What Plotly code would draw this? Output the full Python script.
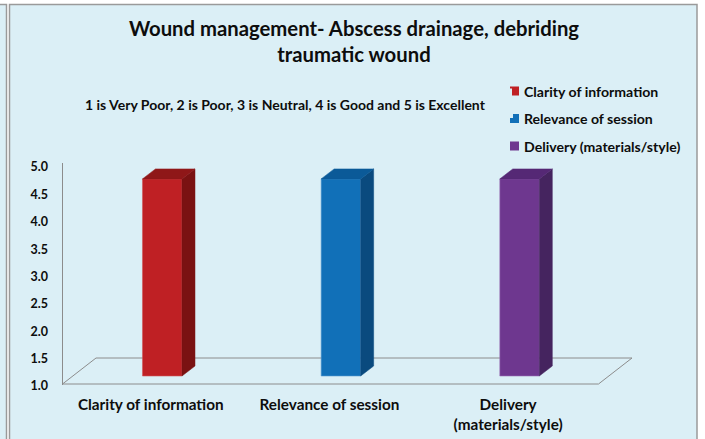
import plotly.graph_objects as go

# ---------- data ----------
categories = ["Clarity of information", "Relevance of session", "Delivery (materials/style)"]
tick_labels = ["Clarity of information", "Relevance of session", "Delivery<br>(materials/style)"]
values = [4.6, 4.6, 4.6]
y_ticks = [1.0, 1.5, 2.0, 2.5, 3.0, 3.5, 4.0, 4.5, 5.0]
title_text = "Wound management- Abscess drainage, debriding<br>traumatic wound"
subtitle_text = "1 is Very Poor, 2 is Poor, 3 is Neutral, 4 is Good and 5 is Excellent"

# ---------- styles ----------
front_colors = ["#BF2024", "#1170B8", "#6E378F"]
side_colors = ["#7A1212", "#0A4A7E", "#45245F"]
top_colors = ["#8F1718", "#0B5A98", "#552875"]
edge_colors = ["#D2585A", "#5A9BD2", "#9A70B5"]
BG = "#DBEFF6"
FRAME = "#9A9A9A"
AXIS_LINE = "#8C8C8C"
TEXT = "#0D0D0D"
FONT = "Lato, Carlito, Calibri, sans-serif"

W, H = 705, 439
PLOT_L, PLOT_R, PLOT_T, PLOT_B = 62.5, 632.5, 163.0, 385.0
X_UNIT = 178.67  # px per category
Y_UNIT = 54.75   # px per rating unit
X_RANGE = [-0.5, -0.5 + (PLOT_R - PLOT_L) / X_UNIT]
Y_BASE = 1.0
Y_RANGE = [Y_BASE - 1 / Y_UNIT, Y_BASE + (384 - PLOT_T) / Y_UNIT]

# pseudo-3D projection, in axis units
FLOOR_DX, FLOOR_DY = 33.5 / X_UNIT, 26 / Y_UNIT
BAR_SHIFT_X, BAR_SHIFT_Y = 10.4 / X_UNIT, 8 / Y_UNIT
BAR_W = 39.5 / X_UNIT
BAR_DX, BAR_DY = 13 / X_UNIT, 10 / Y_UNIT
X0, X1 = -0.5, 2.5


def px(x):
    return x / W


def py(y):
    return 1 - y / H


fig = go.Figure()

# bars: front face through the bar trace, side and top through filled polygons
for i, (name, v) in enumerate(zip(categories, values)):
    xc = i + BAR_SHIFT_X
    xl, xr = xc - BAR_W / 2, xc + BAR_W / 2
    bottom = Y_BASE + BAR_SHIFT_Y
    top = v + BAR_SHIFT_Y
    fig.add_trace(go.Scatter(
        x=[xr, xr + BAR_DX, xr + BAR_DX, xr, xr],
        y=[bottom, bottom + BAR_DY, top + BAR_DY, top, bottom],
        mode="lines", fill="toself", fillcolor=side_colors[i],
        line=dict(color=side_colors[i], width=0.5),
        hoverinfo="skip", showlegend=False))
    fig.add_trace(go.Scatter(
        x=[xl, xl + BAR_DX, xr + BAR_DX, xr, xl],
        y=[top, top + BAR_DY, top + BAR_DY, top, top],
        mode="lines", fill="toself", fillcolor=top_colors[i],
        line=dict(color=top_colors[i], width=0.5),
        hoverinfo="skip", showlegend=False))
    fig.add_trace(go.Bar(
        x=[xc], y=[v - Y_BASE], base=[bottom], width=[BAR_W], name=name,
        marker=dict(color=front_colors[i], line=dict(color=edge_colors[i], width=0.6)),
        showlegend=False))

floor_x = [X0, X0 + FLOOR_DX, X1 + FLOOR_DX, X1]
floor_y = [Y_BASE, Y_BASE + FLOOR_DY, Y_BASE + FLOOR_DY, Y_BASE]
floor_path = "M" + " L".join(f"{a},{b}" for a, b in zip(floor_x, floor_y)) + " Z"

shapes = [
    # neighbouring panel sliver and the chart panel, with their grey frames
    dict(type="rect", xref="paper", yref="paper", x0=px(-5), x1=px(6.5), y0=py(H + 5), y1=py(4.5),
         fillcolor=BG, line=dict(color=FRAME, width=1.5), layer="below"),
    dict(type="rect", xref="paper", yref="paper", x0=px(9.5), x1=px(697), y0=py(H + 5), y1=py(4.5),
         fillcolor=BG, line=dict(color=FRAME, width=1.5), layer="below"),
    # floor of the 3-D box, beneath the bars
    dict(type="path", xref="x", yref="y", path=floor_path,
         line=dict(color=AXIS_LINE, width=1), layer="below"),
]

annotations = [dict(
    text=subtitle_text, xref="paper", yref="paper", x=px(285), y=py(104),
    xanchor="center", yanchor="middle", showarrow=False,
    font=dict(family=FONT, size=14, color=TEXT, weight="bold"))]

# legend: swatches with the small clipped corners of the original
legend_rows = [91, 118.5, 146]
SW = 9
for i, (name, color, row) in enumerate(zip(categories, front_colors, legend_rows)):
    l, r, t, b = 510, 510 + SW, row - SW / 2, row + SW / 2
    if i == 0:   # notch lower-left
        pts = [(l, t), (r, t), (r, b), (l + 2, b), (l + 2, t + 2), (l, t + 2)]
    elif i == 1:  # notch upper-left
        pts = [(l + 3, t), (r, t), (r, b), (l, b), (l, t + 4), (l + 3, t + 4)]
    else:
        pts = [(l, t), (r, t), (r, b), (l, b)]
    path = "M" + " L".join(f"{px(a)},{py(c)}" for a, c in pts) + " Z"
    shapes.append(dict(type="path", xref="paper", yref="paper", path=path,
                       fillcolor=color, line=dict(width=0)))
    annotations.append(dict(
        text=name, xref="paper", yref="paper", x=px(521.5), y=py(row),
        xanchor="left", yanchor="middle", showarrow=False,
        font=dict(family=FONT, size=14.1, color=TEXT, weight="bold")))

fig.update_layout(
    width=W, height=H,
    margin=dict(l=0, r=0, t=0, b=0, pad=0, autoexpand=False),
    paper_bgcolor="#FFFFFF", plot_bgcolor="rgba(0,0,0,0)",
    font=dict(family=FONT, color=TEXT),
    showlegend=False, barmode="overlay",
    title=dict(text=title_text, x=px(354), y=py(36), xref="container", yref="container",
               xanchor="center", yanchor="top", automargin=False, pad=dict(t=0, b=0),
               font=dict(family=FONT, size=20.3, color=TEXT, weight="bold")),
    shapes=shapes, annotations=annotations,
    xaxis=dict(domain=[px(PLOT_L), px(PLOT_R)], range=X_RANGE, tickmode="array",
               tickvals=[-0.006, 0.994, 1.994], ticktext=tick_labels, ticks="", showgrid=False,
               zeroline=False, showline=False, ticklabelstandoff=9,
               tickfont=dict(family=FONT, size=15.3, color=TEXT, weight="bold")),
    yaxis=dict(domain=[py(PLOT_B), py(PLOT_T)], range=Y_RANGE, tickmode="array",
               tickvals=y_ticks, tickformat=".1f", ticks="", showgrid=False,
               zeroline=False, showline=True, linecolor=AXIS_LINE, linewidth=1,
               ticklabelstandoff=11, ticklabelshift=2,
               tickfont=dict(family=FONT, size=12.5, color=TEXT, weight="bold")),
)

fig.write_html("out.html", config={"displayModeBar": False},
               post_script="document.body.style.margin='0';document.body.style.overflow='hidden';")
